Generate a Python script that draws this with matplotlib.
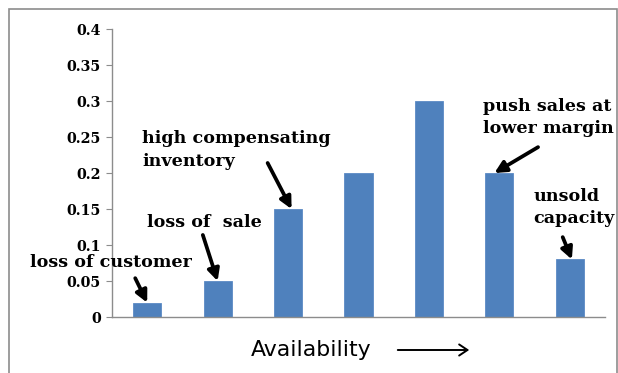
import matplotlib
matplotlib.use("Agg")
import matplotlib.pyplot as plt
from matplotlib.patches import Rectangle, FancyArrowPatch

# demand share per availability level
levels = ["1", "2", "3", "4", "5", "6", "7"]
share = [0.02, 0.05, 0.15, 0.20, 0.30, 0.20, 0.08]
yticks = [0, 0.05, 0.1, 0.15, 0.2, 0.25, 0.3, 0.35, 0.4]
ytick_labels = ["0", "0.05", "0.1", "0.15", "0.2", "0.25", "0.3", "0.35", "0.4"]

# callouts: text, text anchor (x, y), arrow tail, bar index the arrow points at
notes = [
    ("loss of customer", (-1.66, 0.076), (-0.17, 0.054), 0, 0.0),
    ("loss of  sale", (0.0, 0.132), (0.79, 0.114), 1, 0.0),
    ("high compensating\ninventory", (-0.07, 0.232), (1.71, 0.214), 2, 0.05),
    ("push sales at\nlower margin", (4.77, 0.277), (5.55, 0.236), 5, -0.07),
    ("unsold\ncapacity", (5.48, 0.152), (5.90, 0.111), 6, 0.03),
]

serif = "DejaVu Serif"

fig = plt.figure(figsize=(6.18, 3.73), dpi=100)
ax = fig.add_axes([0.1812, 0.150, 0.7977, 0.7721])

x = range(len(levels))
ax.bar(x, share, width=0.4, color="#4f81bd", edgecolor="#5b8ac4", linewidth=0.6, zorder=2)

ax.set_xlim(-0.5, len(levels) - 0.5)
ax.set_ylim(0, 0.4)
ax.set_yticks(yticks)
ax.set_yticklabels(ytick_labels, fontfamily=serif, fontweight="bold", fontsize=10.3)
ax.set_xticks([])

for side in ["top", "right"]:
    ax.spines[side].set_visible(False)
for side in ["left", "bottom"]:
    ax.spines[side].set_color("#8c8c8c")
    ax.spines[side].set_linewidth(1.0)
ax.tick_params(axis="y", direction="out", length=4, color="#8c8c8c", pad=4)

for text, (tx, ty), (ax0, ay0), idx, dx in notes:
    ax.text(tx, ty, text, fontfamily=serif, fontweight="bold", fontsize=12.6,
            ha="left", va="center", linespacing=1.4, clip_on=False, zorder=4)
    ax.annotate("", xy=(idx + dx, share[idx]), xytext=(ax0, ay0),
                arrowprops=dict(arrowstyle="-|>,head_length=0.7,head_width=0.35",
                                color="black", lw=2.7, shrinkA=0, shrinkB=0),
                annotation_clip=False, zorder=4)

# x label with direction arrow
fig.text(311 / 618, 1 - 350 / 373, "Availability", fontfamily="DejaVu Sans",
         fontsize=15.8, ha="center", va="center")
fig.add_artist(FancyArrowPatch((395 / 618, 1 - 350 / 373), (472 / 618, 1 - 350 / 373),
                               transform=fig.transFigure, arrowstyle="->,head_length=6,head_width=4",
                               color="black", lw=1.4))

# outer frame
fig.add_artist(Rectangle((8.5 / 618, -0.1), (617 - 8.5) / 618, 1.1 - 9 / 373,
                         transform=fig.transFigure, fill=False, edgecolor="#8c8c8c",
                         linewidth=1.2))

fig.savefig("out.png", dpi=100)
